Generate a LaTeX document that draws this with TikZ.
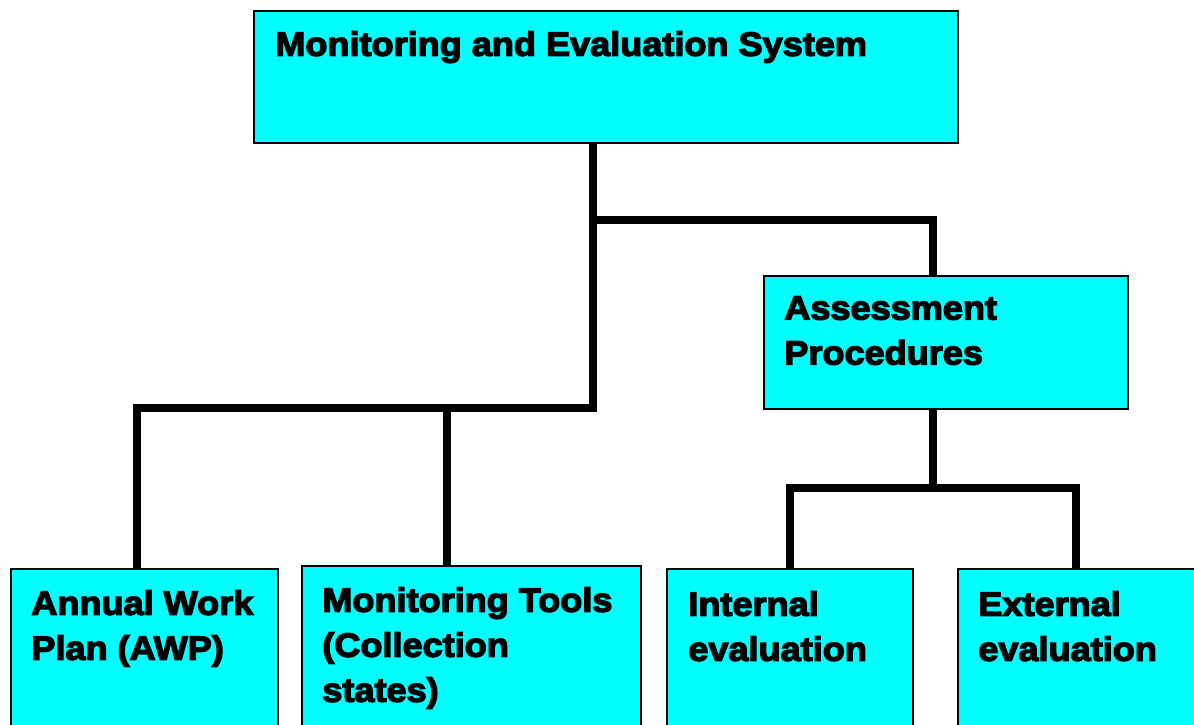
\documentclass[tikz,border=0pt]{standalone}
\usepackage{fontspec}
\newfontfamily\heavysans{Liberation Sans Bold}[FakeBold=4,FakeStretch=1.07]
\definecolor{boxcyan}{RGB}{0,255,255}
\begin{document}
\begin{tikzpicture}[x=0.02cm,y=-0.02cm,
    box/.style={draw=black,line width=1.1pt,fill=boxcyan,inner sep=0,anchor=north west},
    boxtext/.style={anchor=north west,inner sep=0,align=left,
      font=\heavysans\fontsize{19.2}{25.6}\selectfont},
    link/.style={line width=4pt}]
  \useasboundingbox (0,0) rectangle (1194,724);
  % boxes (the bottom row runs off the page)
  \node[box,minimum width=704*0.02cm,minimum height=132*0.02cm] (system) at (253,10) {};
  \node[box,minimum width=364*0.02cm,minimum height=133*0.02cm] (assess) at (763,275) {};
  \node[box,minimum width=267*0.02cm,minimum height=200*0.02cm] (awp) at (10,568) {};
  \node[box,minimum width=339*0.02cm,minimum height=200*0.02cm] (tools) at (301,565) {};
  \node[box,minimum width=246*0.02cm,minimum height=200*0.02cm] (internal) at (666,568) {};
  \node[box,minimum width=260*0.02cm,minimum height=200*0.02cm] (external) at (957,568) {};
  % labels, set at the top left of each box
  \node[boxtext] (systemlbl) at (275,31) {Monitoring and Evaluation System};
  \node[boxtext] (assesslbl) at (784,296) {Assessment\\Procedures};
  \node[boxtext] (awplbl) at (31,590) {Annual Work\\Plan (AWP)};
  \node[boxtext] (toolslbl) at (322,587) {Monitoring Tools\\(Collection\\states)};
  \node[boxtext] (internallbl) at (688,591) {Internal\\evaluation};
  \node[boxtext] (externallbl) at (978,591) {External\\evaluation};
  % tree lines
  \coordinate (trunk) at (593,408);
  \coordinate (branch) at (593,220);
  \coordinate (fork) at (933,488);
  \draw[link] (system.south -| trunk) -- (trunk) -| (awp.north -| 137,0);
  \draw[link] (447,408) -- (tools.north -| 447,0);
  \draw[link] (branch) -| (assess.north -| fork);
  \draw[link] (assess.south -| fork) -- (fork);
  \draw[link] (internal.north -| 790,0) |- (1076,488) -- (external.north -| 1076,0);
\end{tikzpicture}
\end{document}
